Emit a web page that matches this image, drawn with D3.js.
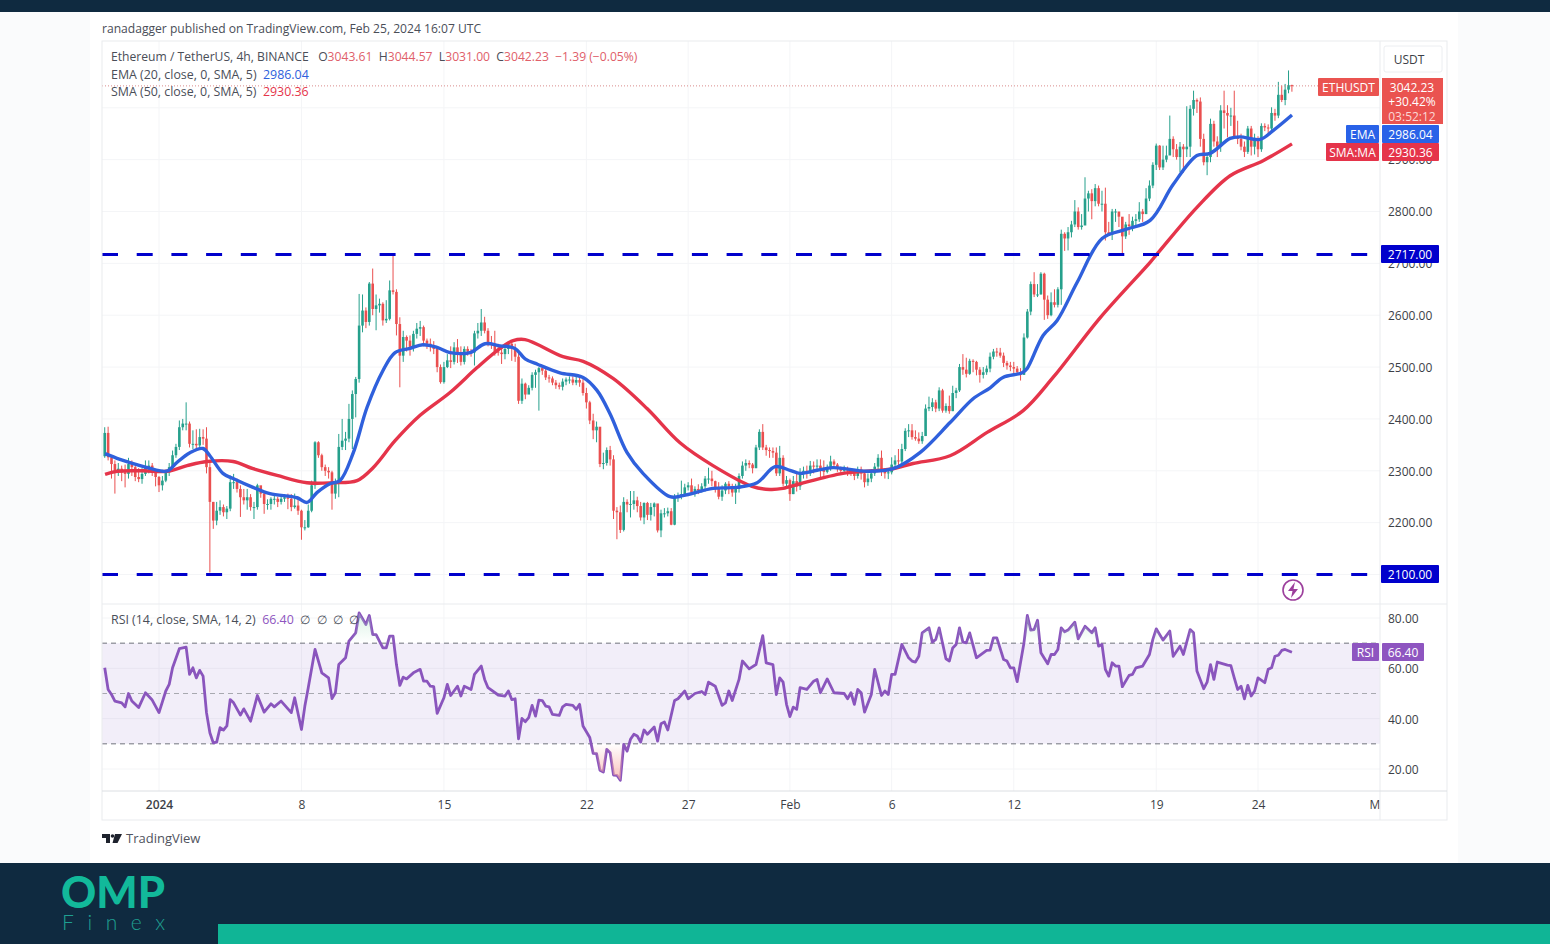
<!DOCTYPE html>
<html>
<head>
<meta charset="utf-8">
<script src="https://cdn.jsdelivr.net/npm/d3@7"></script>
<style>
  html, body { margin: 0; padding: 0; background: #fff; }
  text { font-family: "Open Sans", "Noto Sans", sans-serif; }
</style>
</head>
<body>
<svg id="chart" width="1550" height="944"></svg>
<script>
// 4h closes, Dec 29 08:00 to Feb 25 16:00
var closes = [
  2373,2326,2313,2300,2304,2297,2294,2313,2307,2288,2284,2294,2307,2310,2297,2288,
  2272,2281,2297,2307,2330,2346,2384,2391,2391,2352,2352,2349,2365,2362,2307,2240,
  2204,2223,2230,2220,2227,2278,2278,2265,2249,2243,
  2249,2230,2230,2272,2256,2236,2236,2246,2246,2240,
  2246,2249,2246,2230,2233,2223,2191,2191,2223,2272,
  2355,2330,2307,2300,2297,2256,2275,2346,2358,2362,
  2400,2448,2477,2580,2609,2587,2661,2612,2619,2622,
  2590,2593,2648,2645,2583,2522,2558,2551,2539,2564,
  2574,2577,2551,2545,2539,2535,2500,2471,2500,2513,
  2510,2538,2525,2510,2535,2530,2528,2565,2570,2586,
  2570,2545,2543,2530,2528,2525,2535,2545,2535,2520,
  2435,2468,2447,2460,2485,2490,2498,2493,2480,2478,
  2470,2465,2462,2472,2476,2476,2470,2475,2470,2450,
  2432,2397,2378,2385,2313,2315,2340,2322,2223,2220,
  2186,2240,2235,2236,2243,2232,2210,2238,2215,2230,
  2237,2185,2218,2218,2222,2196,2248,2250,2255,2268,
  2272,2258,2265,2262,2270,2285,2285,2280,2265,2250,
  2262,2275,2270,2258,2265,2290,2310,2315,2312,2305,
  2345,2375,2345,2340,2338,2335,2295,2325,2275,2282,
  2255,2280,2270,
  2295,2300,2295,2310,2308,2310,2302,2298,2305,2318,
  2312,2305,2300,2303,2300,2297,2290,2303,2295,2278,
  2285,2295,2308,2325,2298,2295,2297,2312,2320,2318,
  2342,2377,2378,2365,2362,2357,2367,2420,2423,2432,
  2420,2455,2416,2425,2415,2450,2455,2500,2495,2487,
  2512,2510,2495,2485,2490,2497,2520,2530,2528,2522,
  2508,2503,2500,2497,2490,2485,2557,2607,2660,2640,
  2640,2680,2630,2600,2625,2620,2650,2757,2748,2760,
  2775,2800,2770,2773,2825,2835,2820,2845,2815,2815,
  2760,2755,2800,2800,2790,2752,2775,2772,2782,2785,
  2800,2795,2825,
  2850,2890,2927,2885,2900,2908,2940,2920,2905,2925,
  2920,2925,2998,3015,3012,2940,2895,2905,2969,2935,
  2925,2995,2990,2985,2985,2945,2940,2925,2915,2960,
  2925,2940,2920,2965,2962,2960,2990,2985,3025,3015,
  3035,3043.61,3042.23
];
var highs = [
  2384,2385,2330,2320,2315,2310,2312,2325,2320,2310,2305,2305,2320,2320,2315,2300,
  2290,2290,2300,2315,2339,2352,2397,2400,2432,2395,2378,2380,2381,2380,2384,2320,
  2240,2240,2243,2235,2232,2291,2294,2285,2272,2265,
  2265,2255,2240,2275,2268,2260,2245,2249,2252,2250,
  2252,2255,2256,2255,2256,2250,2225,2205,2235,2281,
  2357,2357,2333,2312,2307,2300,2285,2371,2400,2375,
  2429,2455,2481,2641,2640,2615,2664,2690,2640,2632,
  2625,2629,2667,2715,2650,2596,2570,2561,2561,2570,
  2585,2589,2580,2555,2555,2550,2539,2505,2510,2525,
  2540,2548,2554,2540,2540,2540,2535,2570,2585,2612,
  2597,2575,2560,2570,2545,2535,2540,2550,2550,2545,
  2530,2478,2470,2465,2490,2495,2500,2496,2497,2485,
  2482,2475,2470,2478,2480,2482,2482,2482,2480,2478,
  2460,2435,2410,2395,2384,2335,2345,2348,2330,2230,
  2233,2249,2245,2261,2261,2250,2240,2239,2240,2238,
  2239,2232,2225,2228,2229,2228,2255,2258,2281,2275,
  2278,2285,2270,2274,2276,2290,2306,2300,2281,2278,
  2272,2278,2280,2275,2275,2295,2318,2322,2320,2315,
  2350,2380,2390,2350,2345,2345,2345,2348,2330,2290,
  2285,2290,2295,
  2305,2308,2310,2319,2318,2322,2322,2320,2312,2329,
  2322,2315,2308,2310,2308,2305,2300,2308,2308,2300,
  2295,2303,2315,2332,2339,2305,2305,2326,2330,2342,
  2352,2382,2390,2390,2378,2374,2375,2428,2443,2440,
  2437,2461,2458,2430,2445,2464,2460,2506,2525,2518,
  2516,2515,2512,2500,2500,2503,2528,2535,2537,2537,
  2528,2512,2510,2510,2502,2498,2565,2612,2665,2683,
  2660,2683,2682,2638,2644,2650,2654,2765,2760,2770,
  2782,2822,2808,2795,2866,2840,2843,2853,2850,2840,
  2846,2780,2805,2805,2798,2785,2780,2795,2790,2795,
  2818,2805,2845,
  2860,2895,2931,2928,2927,2927,2985,2945,2930,2934,
  2930,3003,3005,3033,3018,3020,2950,2912,2979,2975,
  2945,3005,3033,3005,3000,3033,2975,2950,2935,2965,
  2965,2950,2945,2970,2970,2968,3001,2998,3050,3043,
  3046,3072,3044.57
];
var lows = [
  2325,2320,2285,2256,2290,2280,2268,2285,2290,2280,2278,2275,2290,2295,2290,2270,
  2259,2262,2278,2290,2300,2325,2340,2378,2378,2345,2342,2340,2340,2350,2295,2104,
  2188,2195,2215,2212,2207,2222,2265,2258,2211,2235,
  2225,2223,2207,2225,2248,2217,2225,2225,2235,2230,
  2235,2240,2226,2222,2227,2215,2167,2185,2190,2220,
  2265,2325,2300,2290,2285,2225,2246,2249,2340,2340,
  2355,2342,2403,2470,2567,2575,2580,2600,2571,2605,
  2580,2585,2590,2640,2561,2461,2510,2530,2522,2530,
  2555,2560,2540,2535,2530,2525,2490,2468,2468,2498,
  2498,2505,2508,2503,2505,2522,2520,2503,2555,2560,
  2565,2540,2535,2522,2522,2506,2515,2525,2512,2510,
  2429,2429,2438,2450,2455,2460,2416,2485,2475,2470,
  2465,2458,2457,2455,2465,2468,2465,2465,2462,2445,
  2420,2390,2361,2355,2307,2303,2310,2310,2207,2168,
  2180,2183,2220,2210,2225,2220,2204,2197,2205,2204,
  2212,2181,2172,2210,2212,2195,2195,2240,2245,2250,
  2262,2255,2250,2255,2258,2260,2275,2270,2258,2245,
  2242,2255,2255,2250,2236,2258,2285,2300,2305,2295,
  2305,2340,2340,2329,2325,2325,2290,2290,2270,2268,
  2242,2255,2260,
  2263,2285,2285,2290,2295,2298,2287,2284,2295,2300,
  2305,2298,2295,2295,2290,2290,2282,2285,2283,2268,
  2271,2278,2290,2300,2290,2285,2284,2293,2305,2305,
  2312,2338,2365,2360,2358,2352,2352,2367,2415,2415,
  2413,2415,2412,2412,2410,2415,2440,2452,2485,2480,
  2485,2490,2484,2470,2478,2485,2490,2515,2520,2518,
  2500,2495,2492,2485,2486,2474,2485,2555,2600,2635,
  2635,2640,2591,2593,2598,2615,2615,2620,2724,2725,
  2750,2770,2765,2765,2785,2800,2785,2810,2810,2800,
  2744,2753,2745,2780,2770,2718,2747,2755,2762,2772,
  2780,2780,2795,
  2820,2845,2880,2880,2880,2895,2915,2905,2900,2876,
  2875,2905,2905,2985,2990,2925,2889,2870,2895,2925,
  2905,2915,2960,2943,2965,2940,2930,2918,2905,2911,
  2908,2910,2905,2915,2955,2950,2955,2975,2980,3011,
  3005,3028,3031
];
var firstOpen = 2328;

// moving averages, read at the bends: days from Jan 1 and price
var emaDays = [-2.65,-1.92,-0.93,0.2,0.44,0.88,1.52,2.16,2.5,3.14,3.64,4.62,5.45,6.78,7.27,7.76,8.4,8.89,9.53,10.22,11,11.6,12.33,12.97,13.66,14.3,15.28,16.02,16.76,17.49,17.99,18.62,19.7,20.84,21.52,22.16,23,23.78,25.11,25.75,27.22,28.4,29.39,30.27,31,31.5,32.33,33.12,34.79,36.07,37.39,38.87,40,40.84,41.47,42.41,42.65,43.44,44.13,45.11,46.34,47.47,48.7,49.83,51,51.65,52.63,53.12,54.1,54.74,55.67];
var emaValues = [2333,2322,2310,2299,2300,2316,2335,2343,2329,2295,2285,2268,2256,2248,2239,2258,2275,2281,2333,2422,2493,2528,2536,2543,2538,2528,2528,2545,2541,2536,2516,2505,2489,2480,2455,2410,2335,2295,2250,2252,2266,2268,2277,2308,2301,2295,2301,2306,2299,2304,2335,2393,2439,2460,2480,2489,2497,2561,2590,2663,2748,2765,2783,2852,2908,2912,2941,2944,2939,2956,2986.04];
var smaDays = [-2.65,-2.06,-0.79,0.39,1.38,2.36,3.64,4.62,5.8,7.27,8.55,9.73,10.52,11.6,12.83,14.3,15.63,16.76,17.4,17.99,19.85,20.84,22.31,23.98,25.6,27.22,29.14,30.02,30.66,31.5,33.61,34.79,36.07,37.05,38.87,40.69,42.46,43.93,46.24,48.7,49.19,51,52.63,54.25,55.67];
var smaValues = [2293,2299,2300,2299,2310,2318,2318,2304,2291,2277,2277,2281,2306,2358,2407,2451,2499,2536,2551,2553,2520,2511,2478,2420,2354,2310,2270,2264,2266,2275,2295,2299,2304,2314,2329,2374,2416,2480,2595,2702,2725,2808,2869,2898,2930.36];

// RSI, read at the turning points: bar number and value
var rsiBars = [0,1,2,3,5,6,7,8,10,12,14,16,18,19,20,22,24,25,26,27,28,29,30,31,32,33,34,35,36,37,38,40,41,43,45,47,49,50,52,55,56,58,59,60,62,64,66,67,68,69,71,72,74,75,77,78,79,80,82,83,84,85,86,87,88,89,91,93,94,95,96,97,98,100,101,102,104,105,106,108,109,111,112,113,116,118,119,120,121,122,123,124,125,126,127,128,129,130,131,132,134,135,136,138,139,140,141,143,144,145,146,147,148,149,150,151,152,153,154,155,156,157,158,159,160,162,163,164,165,166,168,169,171,172,174,176,177,178,180,182,183,184,185,187,188,190,192,194,195,197,198,199,200,201,202,203,204,205,207,209,210,211,213,215,218,219,220,221,222,223,224,226,227,229,230,231,232,233,235,237,238,239,240,241,243,244,245,246,248,249,250,251,252,253,254,255,257,260,261,262,263,265,266,267,268,269,271,272,273,274,275,276,278,279,280,281,282,283,284,286,287,289,291,292,293,294,295,296,297,298,299,300,302,303,304,306,308,309,310,312,314,315,317,318,320,321,322,324,325,326,327,328,331,332,333,334,335,336,337,338,339,340,342,343,344,345,346,347,348,350];
var rsiValues = [60.2,51.6,49.6,47,46.3,44.7,50,47,44.4,50.3,47.4,42.4,51,53.6,60.2,67.8,68.4,57.6,60.2,56.2,59.2,56.9,42.4,34.4,30.4,30.7,36.4,35.5,37.1,47.6,46.3,41.4,43.9,39,49.2,42.6,45.9,44.7,47,42.4,48.3,35.7,45,52.3,67.5,58.2,56.2,48,50.3,61.5,64.2,70.8,74.1,82,77.4,81,73.4,73.4,68.1,68.1,72.8,72.8,61.5,53.2,56.5,55.8,58.2,59.6,54.9,54.9,52.9,52.7,42.1,48.3,53.6,49.2,52.9,49,52.9,51.6,57.6,60.9,55.6,52.3,49.4,49,51,47.6,47.9,32,40.1,38.8,40.4,45.3,41,47.4,47.2,45,44.7,41.7,41.3,44.7,45.7,45.3,43.7,45.7,37.1,32.5,26.2,26.1,19.5,18.8,27.8,26.5,17.6,17.5,15.5,29.8,27.1,31.8,33.8,33.1,30.7,35.5,33.8,36.7,31.1,38,38.7,35.5,47.2,47.9,51,47.9,50,50.8,49.6,54.5,52.9,45.3,46.3,51,47.2,55.6,62.9,59.8,61.5,73,62.2,61.5,49.6,56.2,54.5,45.7,40.8,44.6,43.7,52.3,51.6,54.9,55.6,50.3,55.8,50.3,50,47.9,50.3,45.7,51.6,50.3,42.6,49.6,59.6,49.2,51,49.6,57.6,57.6,69.5,64.2,62.9,62.5,64.8,74.1,76.1,70.4,71.5,76.1,63.8,62.9,68.1,69.5,76.1,70.4,70.1,74.1,64.2,67.1,67.2,72.1,72.1,63.5,62.9,60.2,60.2,54.7,70.1,81,75.2,75.4,79.1,66.2,61.8,65.5,65.5,67.5,76.1,74.5,75.2,78.3,71.7,76.7,74.1,76.1,68.8,69.5,59.6,56.9,62.2,60.9,60.9,52.7,57.2,57.6,60.2,60.9,65.5,71.5,75.7,71.2,74.8,64.8,68.8,65.5,75.4,74.1,58.9,51.9,54.5,61.5,55.6,62.5,61.3,61.1,56.2,51.6,52.9,47.9,53.2,49,51,56.2,54.3,59.6,60.2,64.8,65.2,67.1,67.5,66.4];

var priceTicks = [2100,2200,2300,2400,2500,2600,2700,2800,2900];
var rsiTicks = [20,40,60,80];
var rsiLevels = [70,50,30];
var levels = [2717,2100];
var timeTicks = [["2024",0],["8",7],["15",14],["22",21],["27",26],["Feb",31],["6",36],["12",42],["19",49],["24",54],["Mar",60]];

var svg = d3.select("#chart");
var dayMs = 86400000;
var jan1 = Date.UTC(2024, 0, 1);
function dayDate(d) { return new Date(jan1 + d * dayMs); }
function barDate(i) { return dayDate(55 + 2 / 3 - (closes.length - 1 - i) / 6); }

var left = 102, right = 1380, mainTop = 41, mainBottom = 604, rsiBottom = 791, axisBottom = 820, frameRight = 1447;

var x = d3.scaleUtc().domain([dayDate(0), dayDate(54)]).range([159, 1258]);
var y = d3.scaleLinear().domain([2100, 2800]).range([574.5, 211.5]);
var yRsi = d3.scaleLinear().domain([20, 80]).range([769, 618]);

// page bands
svg.append("rect").attr("width", 1550).attr("height", 944).attr("fill", "#ffffff");
svg.append("rect").attr("x", 0).attr("y", 12).attr("width", 90).attr("height", 851).attr("fill", "#fafbfc");
svg.append("rect").attr("x", 1458).attr("y", 12).attr("width", 92).attr("height", 851).attr("fill", "#fafbfc");
svg.append("rect").attr("width", 1550).attr("height", 12).attr("fill", "#0f2a40");
svg.append("rect").attr("y", 863).attr("width", 1550).attr("height", 81).attr("fill", "#0f2a40");
svg.append("rect").attr("x", 218).attr("y", 924).attr("width", 1332).attr("height", 20).attr("fill", "#10b596");

svg.append("text").attr("x", 102).attr("y", 33).attr("font-size", 12.1).attr("fill", "#4a4e58")
  .text("ranadagger published on TradingView.com, Feb 25, 2024 16:07 UTC");

var clipDefs = svg.append("defs");
clipDefs.append("clipPath").attr("id", "plot").append("rect")
  .attr("x", left).attr("y", mainTop).attr("width", right - left).attr("height", rsiBottom - mainTop);
clipDefs.append("clipPath").attr("id", "timeClip").append("rect")
  .attr("x", left).attr("y", rsiBottom).attr("width", right - left).attr("height", axisBottom - rsiBottom);
clipDefs.append("clipPath").attr("id", "aboveBand").append("rect")
  .attr("x", left).attr("y", mainTop).attr("width", right - left).attr("height", yRsi(70) - mainTop);
clipDefs.append("clipPath").attr("id", "belowBand").append("rect")
  .attr("x", left).attr("y", yRsi(30)).attr("width", right - left).attr("height", rsiBottom - yRsi(30));

// overbought and oversold gradients fade out towards the band
var hotFill = clipDefs.append("linearGradient").attr("id", "hotFill").attr("gradientUnits", "userSpaceOnUse")
  .attr("x1", 0).attr("x2", 0).attr("y1", yRsi(70)).attr("y2", yRsi(90));
hotFill.append("stop").attr("offset", 0).attr("stop-color", "#a5e0c0").attr("stop-opacity", 0);
hotFill.append("stop").attr("offset", 1).attr("stop-color", "#a5e0c0").attr("stop-opacity", 0.7);
var coldFill = clipDefs.append("linearGradient").attr("id", "coldFill").attr("gradientUnits", "userSpaceOnUse")
  .attr("x1", 0).attr("x2", 0).attr("y1", yRsi(30)).attr("y2", yRsi(14));
coldFill.append("stop").attr("offset", 0).attr("stop-color", "#f7a8a0").attr("stop-opacity", 0);
coldFill.append("stop").attr("offset", 1).attr("stop-color", "#f7a8a0").attr("stop-opacity", 0.8);

// grid
var gridColor = "#f4f5f7";
var grid = svg.append("g");
grid.selectAll(".gx").data(timeTicks.slice(0, -1)).enter().append("line")
  .attr("x1", function (d) { return x(dayDate(d[1])); })
  .attr("x2", function (d) { return x(dayDate(d[1])); })
  .attr("y1", mainTop).attr("y2", rsiBottom).attr("stroke", gridColor);
grid.selectAll(".gy").data(priceTicks.concat([3000])).enter().append("line")
  .attr("x1", left).attr("x2", right)
  .attr("y1", function (d) { return y(d); }).attr("y2", function (d) { return y(d); })
  .attr("stroke", gridColor);
grid.selectAll(".gr").data(rsiTicks).enter().append("line")
  .attr("x1", left).attr("x2", right)
  .attr("y1", function (d) { return yRsi(d); }).attr("y2", function (d) { return yRsi(d); })
  .attr("stroke", gridColor);

// RSI band
svg.append("rect").attr("x", left).attr("y", yRsi(70)).attr("width", right - left)
  .attr("height", yRsi(30) - yRsi(70)).attr("fill", "#7e57c2").attr("fill-opacity", 0.1);
svg.selectAll(".lvl").data(rsiLevels).enter().append("line")
  .attr("x1", left).attr("x2", right)
  .attr("y1", function (d) { return yRsi(d); }).attr("y2", function (d) { return yRsi(d); })
  .attr("stroke", function (d) { return d == 50 ? "#a8a9b0" : "#70737c"; })
  .attr("stroke-dasharray", "5 4");

// candles
var plot = svg.append("g").attr("clip-path", "url(#plot)");
var upColor = "#26a08c", downColor = "#ea4f4f";
var bars = closes.map(function (c, i) {
  return { i: i, open: i == 0 ? firstOpen : closes[i - 1], close: c, high: highs[i], low: lows[i] };
});
function barColor(d) { return d.close >= d.open ? upColor : downColor; }
plot.selectAll(".wick").data(bars).enter().append("line")
  .attr("x1", function (d) { return x(barDate(d.i)); })
  .attr("x2", function (d) { return x(barDate(d.i)); })
  .attr("y1", function (d) { return y(d.high); })
  .attr("y2", function (d) { return y(d.low); })
  .attr("stroke", barColor).attr("stroke-width", 1);
plot.selectAll(".body").data(bars).enter().append("rect")
  .attr("x", function (d) { return x(barDate(d.i)) - 1.3; })
  .attr("width", 2.6)
  .attr("y", function (d) { return y(Math.max(d.open, d.close)); })
  .attr("height", function (d) { return Math.max(1, Math.abs(y(d.open) - y(d.close))); })
  .attr("fill", barColor);

// moving averages
var maLine = d3.line().curve(d3.curveCatmullRom.alpha(0.5))
  .x(function (d) { return x(dayDate(d[0])); })
  .y(function (d) { return y(d[1]); });
plot.append("path").attr("d", maLine(d3.zip(smaDays, smaValues)))
  .attr("fill", "none").attr("stroke", "#e5344a").attr("stroke-width", 3.4);
plot.append("path").attr("d", maLine(d3.zip(emaDays, emaValues)))
  .attr("fill", "none").attr("stroke", "#2f60dc").attr("stroke-width", 3.4);

// horizontal levels
plot.selectAll(".level").data(levels).enter().append("line")
  .attr("x1", left).attr("x2", 1368)
  .attr("y1", function (d) { return y(d); }).attr("y2", function (d) { return y(d); })
  .attr("stroke", "#0000cc").attr("stroke-width", 3).attr("stroke-dasharray", "16 18.7");

svg.append("line").attr("x1", left).attr("x2", 1318)
  .attr("y1", y(3042.23)).attr("y2", y(3042.23))
  .attr("stroke", "#d98b8b").attr("stroke-dasharray", "1 2");

// RSI line with the overbought and oversold fills
var rsiPts = d3.zip(rsiBars, rsiValues);
var rsiArea70 = d3.area().x(function (d) { return x(barDate(d[0])); }).y0(yRsi(70)).y1(function (d) { return yRsi(d[1]); });
var rsiArea30 = d3.area().x(function (d) { return x(barDate(d[0])); }).y0(yRsi(30)).y1(function (d) { return yRsi(d[1]); });
svg.append("path").attr("d", rsiArea70(rsiPts)).attr("fill", "url(#hotFill)").attr("clip-path", "url(#aboveBand)");
svg.append("path").attr("d", rsiArea30(rsiPts)).attr("fill", "url(#coldFill)").attr("clip-path", "url(#belowBand)");
var rsiLine = d3.line().x(function (d) { return x(barDate(d[0])); }).y(function (d) { return yRsi(d[1]); });
plot.append("path").attr("d", rsiLine(rsiPts)).attr("fill", "none")
  .attr("stroke", "#8a55bd").attr("stroke-width", 2.8).attr("stroke-linejoin", "round");

// axes
var axisColor = "#3c3f47";
var priceAxis = svg.append("g").attr("transform", "translate(1388,0.5)")
  .call(d3.axisRight(y).tickValues(priceTicks).tickSize(0).tickPadding(0).tickFormat(d3.format(".2f")));
var rsiAxis = svg.append("g").attr("transform", "translate(1388,0.5)")
  .call(d3.axisRight(yRsi).tickValues(rsiTicks).tickSize(0).tickPadding(0).tickFormat(d3.format(".2f")));
var timeAxis = svg.append("g").attr("clip-path", "url(#timeClip)")
  .append("g").attr("transform", "translate(0,791)")
  .call(d3.axisBottom(x).tickValues(timeTicks.map(function (d) { return dayDate(d[1]); }))
    .tickSize(0).tickPadding(9)
    .tickFormat(function (d, i) { return timeTicks[i][0]; }));
[priceAxis, rsiAxis, timeAxis].forEach(function (a) {
  a.select(".domain").remove();
  a.selectAll("text").attr("fill", axisColor).attr("font-size", 12).style("font-family", '"Open Sans", sans-serif');
});
timeAxis.selectAll("text").filter(function (d, i) { return i == 0; }).attr("font-weight", 600);

// frame
var frame = svg.append("g").attr("stroke", "#e9ebee").attr("fill", "none");
frame.append("rect").attr("x", left).attr("y", mainTop).attr("width", frameRight - left).attr("height", axisBottom - mainTop);
frame.append("line").attr("x1", right).attr("x2", right).attr("y1", mainTop).attr("y2", axisBottom);
frame.append("line").attr("x1", left).attr("x2", frameRight).attr("y1", mainBottom).attr("y2", mainBottom);
frame.append("line").attr("x1", left).attr("x2", frameRight).attr("y1", rsiBottom).attr("y2", rsiBottom).attr("stroke", "#dcdfe3");

// USDT button
svg.append("rect").attr("x", 1384).attr("y", 46).attr("width", 58).attr("height", 26).attr("rx", 2).attr("fill", "#fff").attr("stroke", "#eceef1");
svg.append("text").attr("x", 1409).attr("y", 64).attr("text-anchor", "middle").attr("font-size", 12).attr("fill", "#3c3f47").text("USDT");

// price tags: [text, x, y, width, height, colour]
function tag(label, tx, ty, w, h, color) {
  svg.append("rect").attr("x", tx).attr("y", ty).attr("width", w).attr("height", h).attr("rx", 1).attr("fill", color);
  svg.append("text").attr("x", tx + w / 2).attr("y", ty + h / 2 + 4.7).attr("text-anchor", "middle")
    .attr("font-size", 12).attr("fill", "#fff").text(label);
}
tag("ETHUSDT", 1318, 78, 61, 18, "#ea5350");
svg.append("rect").attr("x", 1382).attr("y", 78).attr("width", 61).attr("height", 46).attr("fill", "#ea5350");
[["3042.23", 92, "#fff"], ["+30.42%", 106, "#fff"], ["03:52:12", 121, "#fbd9d6"]].forEach(function (r) {
  svg.append("text").attr("x", 1412).attr("y", r[1]).attr("text-anchor", "middle").attr("font-size", 12).attr("fill", r[2]).text(r[0]);
});
tag("EMA", 1346, 125, 33, 18, "#2962e8");
tag("2986.04", 1382, 125, 57, 18, "#2962e8");
tag("SMA:MA", 1326, 143, 53, 18, "#e5344a");
tag("2930.36", 1382, 143, 57, 18, "#e5344a");
tag("2717.00", 1381, 245, 58, 18, "#0000cc");
tag("2100.00", 1381, 565, 58, 18, "#0000cc");
tag("RSI", 1352, 643, 27, 18, "#8e55c0");
tag("66.40", 1382, 643, 42, 18, "#8e55c0");

// legends
function legend(px, py, size, parts) {
  var t = svg.append("text").attr("x", px).attr("y", py).attr("font-size", size);
  parts.forEach(function (p) { t.append("tspan").attr("fill", p[1]).text(p[0]); });
}
var ink = "#4a4e58", red = "#e0606a";
legend(111, 61, 12.15, [["Ethereum / TetherUS, 4h, BINANCE   O", ink], ["3043.61", red], ["  H", ink], ["3044.57", red], ["  L", ink], ["3031.00", red], ["  C", ink], ["3042.23", red], ["  \u22121.39 (\u22120.05%)", red]]);
legend(111, 79, 12.4, [["EMA (20, close, 0, SMA, 5)  ", ink], ["2986.04", "#2f60dc"]]);
legend(111, 96, 12.4, [["SMA (50, close, 0, SMA, 5)  ", ink], ["2930.36", "#e5344a"]]);
legend(111, 624, 12.4, [["RSI (14, close, SMA, 14, 2)  ", ink], ["66.40", "#8e55c0"], ["  \u2205  \u2205  \u2205  \u2205", ink]]);
svg.selectAll("text").attr("xml:space", "preserve").style("white-space", "pre");

// lightning badge
svg.append("circle").attr("cx", 1293).attr("cy", 590).attr("r", 10).attr("fill", "#fff").attr("stroke", "#9c3f9c").attr("stroke-width", 1.6);
svg.append("path").attr("d", "M1295 582 L1288 591 L1292.5 591 L1291 598 L1298 589 L1293.5 589 Z").attr("fill", "#9c3f9c");

// TradingView mark
svg.append("path").attr("fill", "#1e222d").attr("d", "M102 834 H110 V843 H106 V838 H102 Z M115 834 H122 L117.5 843 H112.5 Z");
svg.append("circle").attr("cx", 112.5).attr("cy", 836).attr("r", 1.8).attr("fill", "#1e222d");
svg.append("text").attr("x", 126).attr("y", 843).attr("font-size", 13).attr("fill", "#50535e").text("TradingView");

// footer logo
svg.append("text").attr("x", 61).attr("y", 908).attr("font-size", 43.5).attr("font-weight", 900)
  .attr("fill", "#12b99a").style("font-family", "Lato, sans-serif").text("OMP");
svg.append("text").attr("x", 62).attr("y", 930).attr("font-size", 21).attr("font-weight", 300)
  .attr("letter-spacing", 13.6).attr("fill", "#1f9f91").style("font-family", "Lato, sans-serif").text("Finex");
</script>
</body>
</html>
